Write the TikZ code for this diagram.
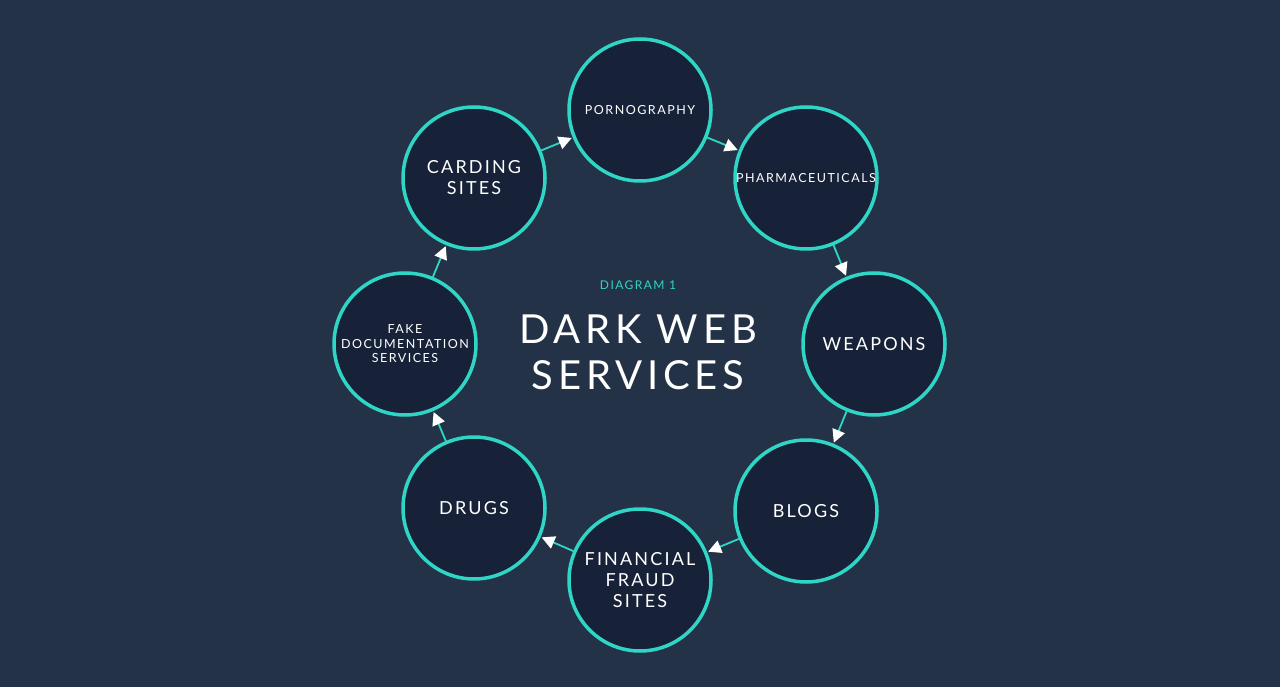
\documentclass[tikz,border=0pt]{standalone}
\usepackage{fontspec}
\setmainfont{Lato}
\newfontfamily\spaced[LetterSpace=12]{Lato}
\usetikzlibrary{arrows.meta}
\definecolor{bg}{HTML}{233247}
\definecolor{cfill}{HTML}{172238}
\definecolor{teal}{HTML}{2FD6C6}
\begin{document}
\begin{tikzpicture}[x=1pt,y=-1pt,
  svc/.style={circle,draw=teal,line width=3.5pt,fill=cfill,minimum size=142pt,inner sep=0pt,align=center,text=white,font=\spaced\fontsize{18}{21}\selectfont},
  svcs/.style={svc,font=\spaced\fontsize{12.5}{14.5}\selectfont},
  link/.style={draw=teal,line width=1.8pt,-{Triangle[fill=white,color=white,length=13pt,width=13pt]},shorten >=1pt}]
\fill[bg] (0,0) rectangle (1280,687);
\node[svcs] (p) at (640,110) {PORNOGRAPHY};
\node[svcs] (ph) at (806,178) {PHARMACEUTICALS};
\node[svc] (w) at (874,344) {WEAPONS};
\node[svc] (b) at (806,511) {BLOGS};
\node[svc] (f) at (640,580) {FINANCIAL\\FRAUD\\SITES};
\node[svc] (d) at (474,508) {DRUGS};
\node[svcs] (fk) at (405,344) {FAKE\\DOCUMENTATION\\SERVICES};
\node[svc] (c) at (474,178) {CARDING\\SITES};
\draw[link] (p) -- (ph);
\draw[link] (ph) -- (w);
\draw[link] (w) -- (b);
\draw[link] (b) -- (f);
\draw[link] (f) -- (d);
\draw[link] (d) -- (fk);
\draw[link] (fk) -- (c);
\draw[link] (c) -- (p);
\node[text=teal,font=\spaced\fontsize{12}{14}\selectfont] (dg) at (638,285) {DIAGRAM 1};
\node[text=white,align=center,font=\spaced\fontsize{40}{46}\selectfont] (t) at (638,352) {DARK WEB\\SERVICES};
\end{tikzpicture}
\end{document}
